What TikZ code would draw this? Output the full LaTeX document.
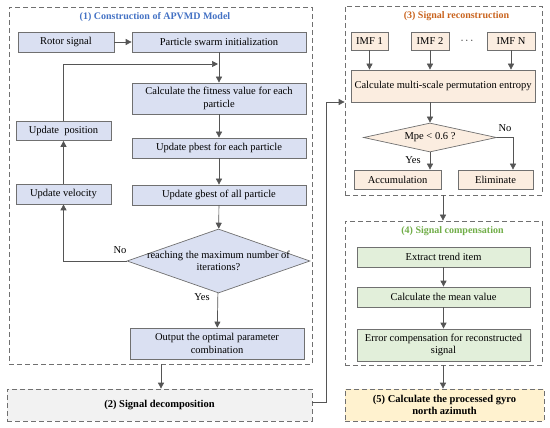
\documentclass[tikz,border=0pt]{standalone}
\usepackage{fontspec}
\setmainfont{Liberation Serif}
\usetikzlibrary{arrows.meta,shapes.geometric,calc}
\definecolor{bfill}{HTML}{DAE0F2}
\definecolor{ofill}{HTML}{FBEDE0}
\definecolor{gfill}{HTML}{E2EFDA}
\definecolor{yfill}{HTML}{FFF2CF}
\definecolor{grfill}{HTML}{F2F2F2}
\definecolor{edge}{HTML}{707070}
\definecolor{lnc}{HTML}{555555}
\definecolor{tblue}{HTML}{4472C4}
\definecolor{torange}{HTML}{C9641F}
\definecolor{tgreen}{HTML}{70AD47}
\begin{document}
\begin{tikzpicture}[x=1pt,y=-1pt,
  every node/.style={font=\fontsize{10.5}{12.5}\selectfont, inner sep=1pt},
  box/.style={draw=edge, line width=0.7pt, rectangle, align=center},
  bbox/.style={box, fill=bfill},
  obox/.style={box, fill=ofill},
  gbox/.style={box, fill=gfill},
  dia/.style={draw=edge, line width=0.7pt, diamond, inner sep=0pt},
  dbox/.style={draw=edge, line width=0.7pt, dash pattern=on 5pt off 3pt, rectangle, align=center},
  ttl/.style={font=\fontsize{10}{12}\selectfont\bfseries},
  boldtext/.style={font=\fontsize{10.5}{12.5}\selectfont\bfseries},
  arr/.style={draw=lnc, line width=0.7pt, -{Triangle[length=6pt,width=6pt]}},
  lbl/.style={font=\fontsize{10.5}{12.5}\selectfont}
]
\useasboundingbox (0,0) rectangle (550,428);
% group boxes
\node[dbox, minimum width=303pt, minimum height=357pt] (b1) at (160.5,185.5) {};
\node[dbox, fill=grfill, minimum width=305pt, minimum height=32pt, boldtext] (b2) at (159.5,405) {(2) Signal decomposition};
\node[dbox, minimum width=197pt, minimum height=189pt] (b3) at (443.5,100.5) {};
\node[dbox, minimum width=197pt, minimum height=144pt] (b4) at (443.5,293) {};
\node[dbox, fill=yfill, minimum width=199pt, minimum height=32pt, boldtext] (b5) at (444.5,405) {(5) Calculate the processed gyro\\north azimuth};
% titles
\node[ttl, text=tblue] (t1) at (155,17) {(1) Construction of APVMD Model};
\node[ttl, text=torange] (t3) at (456.5,16) {(3) Signal reconstruction};
\node[ttl, text=tgreen] (t4) at (452.5,231) {(4) Signal compensation};
% part 1
\node[bbox, minimum width=96pt, minimum height=20pt] (rotor) at (66,42) {Rotor signal};
\node[bbox, minimum width=174pt, minimum height=20pt] (pso) at (219,42) {Particle swarm initialization};
\node[bbox, minimum width=174pt, minimum height=31pt] (fit) at (219,98.5) {Calculate the fitness value for each\\particle};
\node[bbox, minimum width=174pt, minimum height=20pt] (pbest) at (219,148) {Update pbest for each particle};
\node[bbox, minimum width=174pt, minimum height=20pt] (gbest) at (219,195) {Update gbest of all particle};
\node[bbox, minimum width=95pt, minimum height=19pt] (pos) at (63.5,131) {Update\ \ position};
\node[bbox, minimum width=95pt, minimum height=20pt] (vel) at (63.5,194) {Update velocity};
\node[dia, fill=bfill, minimum width=183pt, minimum height=64pt] (d1) at (218.5,261) {};
\node[align=center] (d1t) at (d1) {reaching the maximum number of\\iterations?};
\node[bbox, minimum width=174pt, minimum height=31pt] (out) at (217,343.5) {Output the optimal parameter\\combination};
\node[lbl] (no1) at (120,250) {No};
\node[lbl] (yes1) at (202,297) {Yes};
\coordinate (loopend) at (218,64);
\draw[arr] (rotor) -- (pso);
\draw[arr] (pso) -- (fit);
\draw[arr] (fit) -- (pbest);
\draw[arr] (pbest) -- (gbest);
\draw[arr] (gbest) -- (d1);
\draw[arr] (d1) -- (out);
\draw[arr] (d1.west) -| (vel.south);
\draw[arr] (vel) -- (pos);
\draw[arr] (pos.north) |- (loopend);
\draw[arr] (b1.south -| 161,0) -- (b2.north -| 161,0);
% part 3
\node[obox, minimum width=37pt, minimum height=18pt] (imf1) at (369.5,41) {IMF 1};
\node[obox, minimum width=38pt, minimum height=18pt] (imf2) at (430,41) {IMF 2};
\node (dots) at (467,41) {$\cdots$};
\node[obox, minimum width=48pt, minimum height=18pt] (imfn) at (511,41) {IMF N};
\node[obox, minimum width=184pt, minimum height=32pt] (mpe) at (443,86) {Calculate multi-scale permutation entropy};
\node[dia, fill=ofill, minimum width=133pt, minimum height=29pt] (d2) at (430,137.5) {};
\node (d2t) at (d2) {Mpe < 0.6 ?};
\node[obox, minimum width=87pt, minimum height=19pt] (acc) at (397.5,179.5) {Accumulation};
\node[obox, minimum width=75pt, minimum height=19pt] (elim) at (495.5,179.5) {Eliminate};
\node[lbl] (yes2) at (413,160) {Yes};
\node[lbl] (no2) at (505,128) {No};
\coordinate (noturn) at (513,137.5);
\draw[arr] (imf1) -- (imf1 |- mpe.north);
\draw[arr] (imf2) -- (imf2 |- mpe.north);
\draw[arr] (imfn) -- (imfn |- mpe.north);
\draw[arr] (mpe.south -| d2.north) -- (d2.north);
\draw[arr] (d2.south) -- (d2.south |- acc.north);
\draw[arr] (d2.east) -- (noturn) -- (noturn |- elim.north);
% connector 2 -> 3
\coordinate (c1) at (326,402);
\coordinate (c2) at (326,102);
\draw[arr] (b2.east |- c1) -- (c1) -- (c2) -- (b3.west |- c2);
% part 4
\node[gbox, minimum width=173pt, minimum height=20pt] (trend) at (443.5,257) {Extract trend item};
\node[gbox, minimum width=173pt, minimum height=20pt] (mean) at (443.5,297) {Calculate the mean value};
\node[gbox, minimum width=173pt, minimum height=32pt] (err) at (443.5,345) {Error compensation for reconstructed\\signal};
\draw[arr] (trend) -- (mean);
\draw[arr] (mean) -- (err);
\draw[arr] (b3.south -| 443,0) -- (b4.north -| 443,0);
\draw[arr] (b4.south -| 443,0) -- (b5.north -| 443,0);
\end{tikzpicture}
\end{document}
